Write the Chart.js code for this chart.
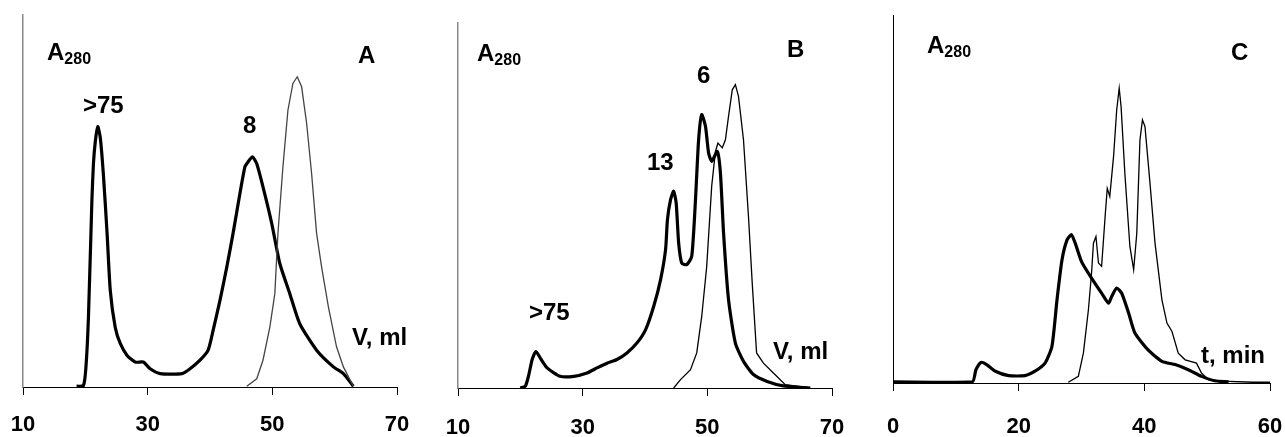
<!DOCTYPE html>
<html>
<head>
<meta charset="utf-8">
<script src="https://cdn.jsdelivr.net/npm/chart.js@4.4.1/dist/chart.umd.min.js"></script>
<style>
  body { margin: 0; background: #fff; }
  #wrap { position: relative; width: 1285px; height: 437px; overflow: hidden; font-family: "Liberation Sans", Arial, sans-serif; }
  canvas { position: absolute; top: 0; }
  .lbl { position: absolute; font-weight: bold; font-size: 24px; line-height: 1; color: #000; white-space: nowrap; }
  .lbl sub { font-size: 16px; vertical-align: -4px; line-height: 0; }
</style>
</head>
<body>
<div id="wrap">
  <canvas id="chartA" width="430" height="437" style="left:0"></canvas>
  <canvas id="chartB" width="430" height="437" style="left:430px"></canvas>
  <canvas id="chartC" width="430" height="437" style="left:855px"></canvas>

  <div class="lbl" style="left:47px;top:40px">A<sub>280</sub></div>
  <div class="lbl" style="left:358px;top:43px">A</div>
  <div class="lbl" style="left:83px;top:93px">&gt;75</div>
  <div class="lbl" style="left:243px;top:113px">8</div>
  <div class="lbl" style="left:352px;top:325px">V, ml</div>

  <div class="lbl" style="left:477px;top:41px">A<sub>280</sub></div>
  <div class="lbl" style="left:787px;top:37px">B</div>
  <div class="lbl" style="left:697px;top:63px">6</div>
  <div class="lbl" style="left:647px;top:150px">13</div>
  <div class="lbl" style="left:529px;top:300px">&gt;75</div>
  <div class="lbl" style="left:773px;top:339px">V, ml</div>

  <div class="lbl" style="left:927px;top:33px">A<sub>280</sub></div>
  <div class="lbl" style="left:1231px;top:40px">C</div>
  <div class="lbl" style="left:1201px;top:343px">t, min</div>
</div>
<script>
// panel A: elution volume (ml) vs A280 (arbitrary units, 100 = top of axis)
var aThickX = [18.6, 19.7, 20.1, 20.5, 21.05, 21.3, 21.6, 22.0, 22.4, 22.9, 23.5, 24.0, 24.8, 25.6, 26.7, 28.0, 29.3, 30.4, 32.0, 35.5, 36.8, 38.4, 39.7, 40.5, 41.6, 42.7, 43.7, 44.8, 45.6, 46.1, 46.8, 47.5, 48.5, 49.9, 51.2, 52.8, 54.4, 57.1, 59.8, 61.4, 63.0];
var aThickY = [0.2, 0.4, 5.4, 18.8, 50, 60, 66, 70, 67, 57, 41, 26, 16, 11.7, 8.5, 6.7, 6.7, 4.9, 3.6, 3.6, 4.9, 7.2, 9.9, 15.2, 23.3, 32.3, 41.3, 52, 59.2, 60.5, 61.9, 60, 53.8, 44, 33.2, 25.1, 17, 9.9, 5.4, 3.6, 0.2];
var aThinX = [45.9, 47.5, 48.5, 49.6, 50.4, 50.9, 51.7, 52.5, 53.3, 54.0, 54.7, 55.5, 56.3, 57.1, 57.9, 59.0, 60.3, 61.4, 63.0];
var aThinY = [0.2, 2.2, 7.2, 16.1, 25.1, 41.3, 59.2, 74.4, 81.6, 83.4, 80.7, 70.9, 57.4, 41.3, 32.3, 21.5, 10.8, 5.4, 0.2];

// panel B
var bThickX = [20.0, 20.8, 21.3, 21.9, 22.5, 23.2, 24.3, 26.4, 28.6, 30.7, 32.3, 33.9, 35.5, 37.1, 38.7, 40.1, 41.4, 42.5, 43.3, 43.6, 44.1, 44.6, 45.0, 45.4, 45.9, 46.7, 47.5, 48.1, 48.6, 49.1, 49.7, 50.2, 50.7, 51.6, 52.1, 52.6, 53.4, 54.5, 55.8, 57.4, 59.6, 62.2, 66.5];
var bThickY = [0, 0.5, 3.2, 7.8, 10, 8.2, 5.5, 3.2, 3.2, 4.1, 5.5, 6.8, 7.8, 9.6, 12.3, 16, 22.4, 29.7, 37.9, 46.1, 51.6, 53.9, 50.7, 39.7, 34.2, 33.8, 36.1, 51.6, 68, 74.9, 71.7, 64.4, 62.1, 64.8, 58.9, 42.5, 24.2, 12.3, 7.3, 3.7, 1.8, 0.6, 0];
var bThinX = [44.6, 45.7, 47.3, 48.3, 49.1, 49.9, 50.7, 51.3, 51.7, 52.4, 52.9, 53.4, 54.0, 54.5, 55.0, 55.8, 56.6, 57.2, 57.9, 59.0, 60.6, 62.5, 66.5];
var bThinY = [0, 2.3, 5, 9.6, 19.6, 33.3, 55.3, 64.8, 67.1, 65.8, 68, 74.4, 81.7, 83.1, 79.9, 68, 47, 28.8, 9.6, 6.8, 4.1, 0.9, 0];

// panel C: time (min)
var cThickX = [0, 12.6, 13.2, 14.0, 14.9, 16.3, 18.4, 21.0, 22.6, 24.2, 25.3, 26.1, 26.9, 27.7, 28.4, 29.0, 30.0, 31.6, 33.2, 34.3, 34.8, 35.6, 36.4, 37.5, 38.5, 40.6, 42.8, 44.9, 47.0, 49.1, 51.2, 53.4];
var cThickY = [0.3, 0.3, 3.6, 5.6, 5, 3.2, 2, 2, 3.2, 5.4, 10, 22.6, 33.5, 38.9, 40.3, 38, 33, 28.5, 24.4, 21.7, 23.5, 25.8, 24.4, 19, 13.6, 9, 5.9, 5, 3.6, 1.8, 0.6, 0.3];
var cThinX = [27.9, 29.5, 30.3, 31.1, 31.6, 31.9, 32.3, 32.7, 33.2, 33.8, 34.1, 34.5, 35.1, 35.6, 36.0, 36.3, 36.9, 37.7, 38.3, 38.8, 39.3, 39.7, 40.1, 40.9, 41.7, 42.8, 43.6, 44.4, 45.4, 46.5, 48.3, 49.1, 50.2, 52.3, 57.3, 60];
var cThinY = [0.2, 1.8, 8.1, 19.9, 29.9, 38, 39.8, 32.6, 31.7, 46.2, 52.9, 50.7, 61.5, 74.2, 80.1, 75.1, 57, 37.1, 30.8, 40.7, 66, 71.5, 69.7, 54.3, 38, 22.6, 16.3, 14, 8.1, 6.3, 5.4, 2.7, 0.9, 0.5, 0.2, 0.2];

var aTicks = [10, 30, 50, 70];
var bTicks = [10, 30, 50, 70];
var cTicks = [0, 20, 40, 60];

function pts(xs, ys) {
    return xs.map(function (x, i) { return {x: x, y: ys[i]}; });
}

function makeChart(id, cfg) {
    return new Chart(document.getElementById(id), {
        type: 'line',
        data: {
            datasets: [
                {data: cfg.thin, borderColor: cfg.thinColor, borderWidth: 1.3, pointRadius: 0, tension: 0},
                {data: cfg.thick, borderColor: '#000', borderWidth: 3.2, pointRadius: 0, tension: 0.2}
            ]
        },
        options: {
            responsive: false,
            animation: false,
            layout: {padding: cfg.pad},
            plugins: {legend: {display: false}, tooltip: {enabled: false}},
            scales: {
                x: {
                    type: 'linear',
                    min: cfg.ticks[0],
                    max: cfg.ticks[cfg.ticks.length - 1],
                    afterBuildTicks: function (s) { s.ticks = cfg.ticks.map(function (v) { return {value: v}; }); },
                    afterFit: function (s) { s.height = cfg.xh; s.paddingLeft = 0; s.paddingRight = 0; },
                    grid: {display: true, drawOnChartArea: false, drawTicks: true, tickLength: 8, color: '#000'},
                    border: {display: true, color: '#000', width: 1},
                    ticks: {color: '#000', padding: cfg.tickPad, maxRotation: 0, font: {family: 'Liberation Sans, Arial', size: 22, weight: 'bold'}}
                },
                y: {
                    min: 0,
                    max: 100,
                    afterFit: function (s) { s.width = 0; s.paddingTop = 0; s.paddingBottom = 0; },
                    grid: {display: false, drawTicks: false},
                    border: {display: true, color: cfg.yColor, width: cfg.yWidth},
                    ticks: {display: false}
                }
            }
        }
    });
}

makeChart('chartA', {
    thick: pts(aThickX, aThickY), thin: pts(aThinX, aThinY), thinColor: '#444',
    ticks: aTicks, pad: {left: 23, right: 33, top: 15, bottom: 0}, xh: 50, tickPad: 17,
    yColor: '#888', yWidth: 1.5
});
makeChart('chartB', {
    thick: pts(bThickX, bThickY), thin: pts(bThinX, bThinY), thinColor: '#000',
    ticks: bTicks, pad: {left: 28, right: 28, top: 23, bottom: 0}, xh: 49, tickPad: 19,
    yColor: '#888', yWidth: 1.5
});
makeChart('chartC', {
    thick: pts(cThickX, cThickY), thin: pts(cThinX, cThinY), thinColor: '#000',
    ticks: cTicks, pad: {left: 38, right: 15, top: 15, bottom: 0}, xh: 54, tickPad: 23,
    yColor: '#000', yWidth: 1
});
</script>
</body>
</html>
